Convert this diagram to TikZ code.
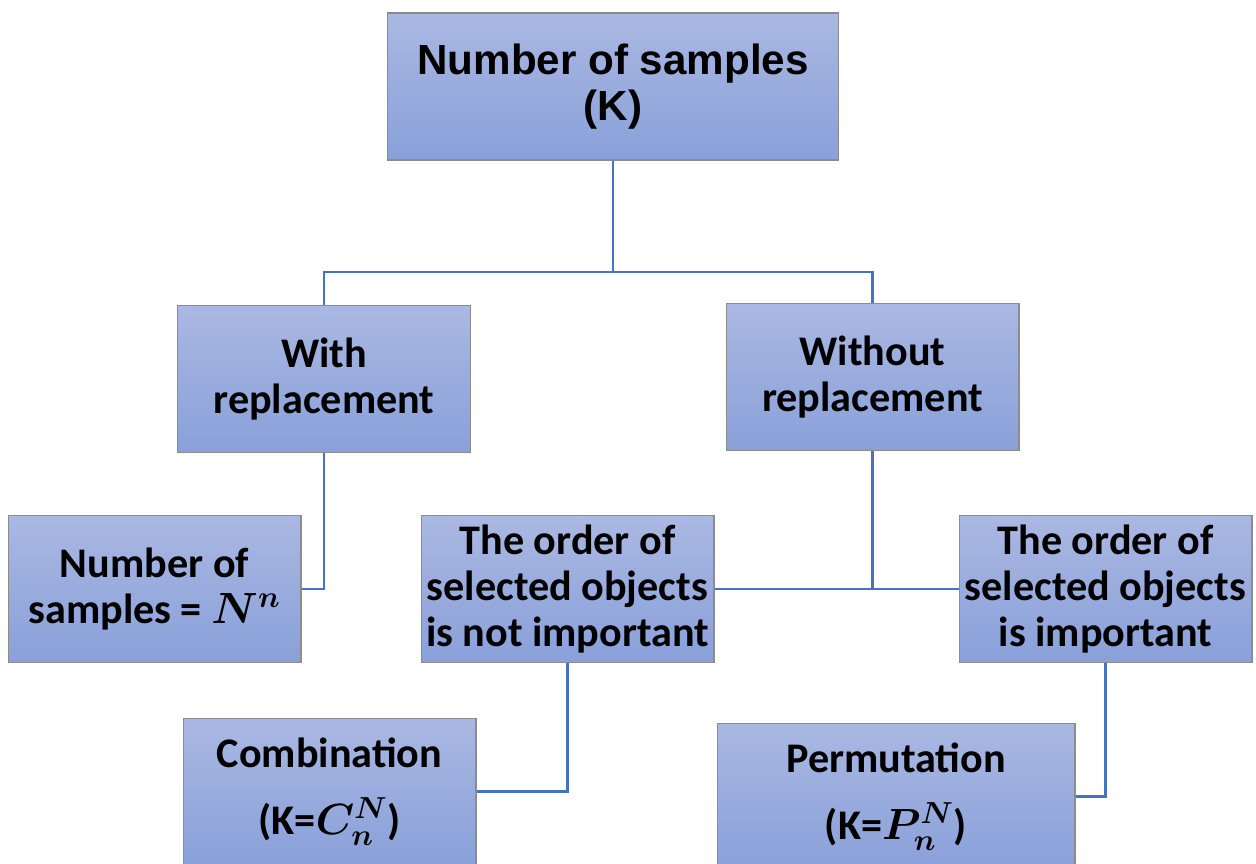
\documentclass[tikz,border=0pt]{standalone}
\usepackage{fontspec}
\usepackage{bm}
\setmainfont{Carlito}
\newfontfamily\arialfont{Liberation Sans}
\definecolor{boxtop}{RGB}{170,184,226}
\definecolor{boxbot}{RGB}{137,160,217}
\definecolor{linkblue}{RGB}{68,114,196}
\tikzset{
  box/.style={draw=gray!90, line width=0.6pt, top color=boxtop, bottom color=boxbot,
    minimum width=5.86cm, minimum height=2.94cm, align=center, inner sep=0pt,
    font=\fontsize{24}{26}\selectfont\bfseries},
  link/.style={draw=linkblue, line width=1.5pt}
}
\begin{document}
\begin{tikzpicture}[x=0.02cm,y=-0.02cm]
    % Cadre
    \clip (0,0) rectangle (1256,863);
    % Racine
    \node[box, minimum width=9.04cm, font=\arialfont\fontsize{24}{26}\selectfont\bfseries] (nbsamples) at (613,86.5) {Number of samples\\(K)};
    % Deux cas
    \node[box] (withrep) at (324,379) {With\\replacement};
    \node[box] (withoutrep) at (872.5,377) {Without\\replacement};
    % Feuilles
    \node[box] (nbformula) at (154.5,589) {Number of\\samples = $\bm{N^{n}}$};
    \node[box] (notimp) at (567.5,589) {The order of\\selected objects\\is not important};
    \node[box] (imp) at (1105.5,589) {The order of\\selected objects\\is important};
    \node[box] (comb) at (329.5,791.5) {Combination\\[12pt](K=$\bm{C_{n}^{N}}$)};
    \node[box, minimum width=7.16cm] (perm) at (896,796.5) {Permutation\\[12pt](K=$\bm{P_{n}^{N}}$)};
    % Liaisons
    \coordinate (split) at (613,272);
    \draw[link] (nbsamples.south) -- (split);
    \draw[link] (withrep.north) |- (split) -| (withoutrep.north);
    \draw[link] (withrep.south) |- (nbformula.east);
    \draw[link] (withoutrep.south) -- (withoutrep.south |- notimp.east);
    \draw[link] (notimp.east) -- (imp.west);
    \draw[link] (notimp.south) |- (comb.east);
    \draw[link] (imp.south) |- (perm.east);
\end{tikzpicture}
\end{document}
